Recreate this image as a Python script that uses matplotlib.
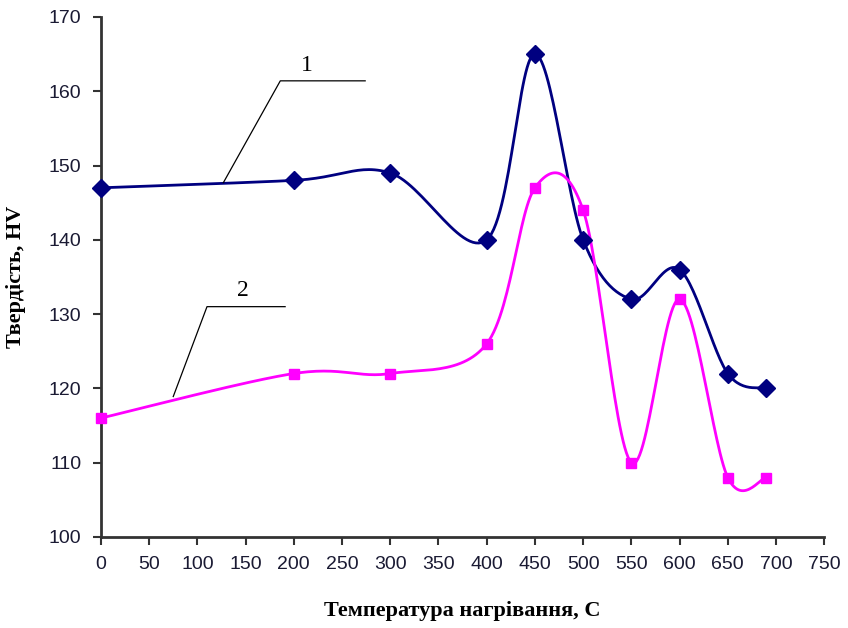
import numpy as np
import matplotlib
matplotlib.use('Agg')
import matplotlib.pyplot as plt

# Data
temp = [0, 200, 300, 400, 450, 500, 550, 600, 650, 690]
hv_1 = [147, 148, 149, 140, 165, 140, 132, 136, 122, 120]
hv_2 = [116, 122, 122, 126, 147, 144, 110, 132, 108, 108]

x_ticks = list(range(0, 751, 50))
y_ticks = list(range(100, 171, 10))


def smooth(x, y, n=30):
    # Excel-style smoothed line (Bezier through points, Catmull-Rom tangents)
    x = np.asarray(x, float)
    y = np.asarray(y, float)
    xs, ys = [], []
    for i in range(len(x) - 1):
        i0 = max(i - 1, 0)
        i3 = min(i + 2, len(x) - 1)
        p0 = np.array([x[i], y[i]])
        p3 = np.array([x[i + 1], y[i + 1]])
        c1 = p0 + (np.array([x[i + 1], y[i + 1]]) - np.array([x[i0], y[i0]])) / 6
        c2 = p3 - (np.array([x[i3], y[i3]]) - np.array([x[i], y[i]])) / 6
        t = np.linspace(0, 1, n)[:, None]
        pts = ((1 - t) ** 3) * p0 + 3 * ((1 - t) ** 2) * t * c1 + 3 * (1 - t) * t ** 2 * c2 + t ** 3 * p3
        xs.extend(pts[:, 0])
        ys.extend(pts[:, 1])
    return xs, ys


fig = plt.figure(figsize=(8.48, 6.28), dpi=100)
ax = fig.add_axes([0.119, 0.145, 0.853, 0.828])

sx, sy = smooth(temp, hv_1)
ax.plot(sx, sy, color='#000080', lw=2)
ax.plot(temp, hv_1, 'D', color='#000080', ms=9, clip_on=False, zorder=5)

sx, sy = smooth(temp, hv_2)
ax.plot(sx, sy, color='#FF00FF', lw=2)
ax.plot(temp, hv_2, 's', color='#FF00FF', ms=7.5, clip_on=False, zorder=5)

# curve labels with leader lines
ax.plot([127, 186, 274], [147.7, 161.4, 161.4], color='black', lw=0.9)
ax.text(214, 162.0, '1', fontsize=17, family='Liberation Serif', ha='center', va='bottom')
ax.plot([75, 110, 191], [118.9, 131, 131], color='black', lw=0.9)
ax.text(147, 131.8, '2', fontsize=17, family='Liberation Serif', ha='center', va='bottom')

ax.set_xlim(0, 750)
ax.set_ylim(100, 170)
ax.set_xticks(x_ticks)
ax.set_yticks(y_ticks)
ax.tick_params(labelsize=14, length=6, width=1.5, color='#333333', pad=8,
               labelcolor='#1a1a33')
for lab in ax.get_xticklabels() + ax.get_yticklabels():
    lab.set_family('Liberation Sans')

for s in ['top', 'right']:
    ax.spines[s].set_visible(False)
for s in ['left', 'bottom']:
    ax.spines[s].set_linewidth(2)
    ax.spines[s].set_color('#333333')

ax.set_xlabel('Температура нагрівання, С', fontsize=16, fontweight='bold',
              family='Liberation Serif', labelpad=20)
ax.set_ylabel('Твердість, HV', fontsize=16, fontweight='bold',
              family='Liberation Serif', labelpad=16)

fig.savefig('out.png', dpi=100)
